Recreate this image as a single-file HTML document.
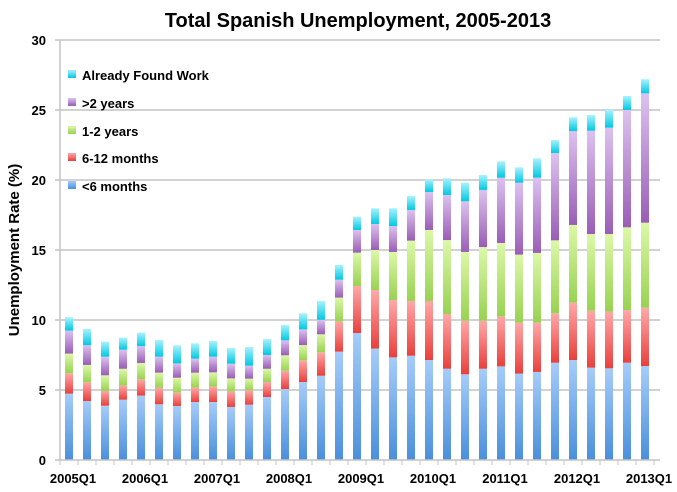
<!DOCTYPE html>
<html><head><meta charset="utf-8"><style>
body{margin:0;background:#fff;}
svg{display:block;font-family:"Liberation Sans",sans-serif;font-weight:bold;}
</style></head><body>
<svg id="c" width="677" height="492" xmlns="http://www.w3.org/2000/svg">
<defs>
<linearGradient id="g0" x1="0" y1="0" x2="0" y2="1"><stop offset="0" stop-color="#a6ccfa"/><stop offset="1" stop-color="#4a8fdb"/></linearGradient>
<linearGradient id="g1" x1="0" y1="0" x2="0" y2="1"><stop offset="0" stop-color="#ffa8a8"/><stop offset="1" stop-color="#e8403c"/></linearGradient>
<linearGradient id="g2" x1="0" y1="0" x2="0" y2="1"><stop offset="0" stop-color="#dcf8a8"/><stop offset="1" stop-color="#98d252"/></linearGradient>
<linearGradient id="g3" x1="0" y1="0" x2="0" y2="1"><stop offset="0" stop-color="#dcc2f0"/><stop offset="1" stop-color="#9a5db6"/></linearGradient>
<linearGradient id="g4" x1="0" y1="0" x2="0" y2="1"><stop offset="0" stop-color="#a8f2ff"/><stop offset="1" stop-color="#00c8e2"/></linearGradient>
</defs>
<text x="358" y="27" font-size="20" text-anchor="middle" fill="#000">Total Spanish Unemployment, 2005-2013</text>
<g id="grid" stroke="#c4c4c4" stroke-width="1.5"></g>
<g id="bars"></g>
<g id="ax"></g>
<text transform="translate(19,250) rotate(-90)" font-size="15" text-anchor="middle">Unemployment Rate (%)</text>
<g font-size="13">
<rect x="68" y="70" width="8" height="8" fill="url(#g4)"/><text x="82" y="80">Already Found Work</text>
<rect x="68" y="98" width="8" height="8" fill="url(#g3)"/><text x="82" y="108">&gt;2 years</text>
<rect x="68" y="126" width="8" height="8" fill="url(#g2)"/><text x="82" y="136">1-2 years</text>
<rect x="68" y="153" width="8" height="8" fill="url(#g1)"/><text x="82" y="163">6-12 months</text>
<rect x="68" y="181" width="8" height="8" fill="url(#g0)"/><text x="82" y="191">&lt;6 months</text>
</g>
</svg>
<script>
const d=[[4.74,6.19,7.6,9.24,10.2],[4.21,5.55,6.79,8.2,9.36],[3.88,4.93,6.05,7.38,8.45],[4.31,5.33,6.52,7.88,8.74],[4.6,5.76,6.93,8.14,9.1],[3.98,5.17,6.24,7.38,8.57],[3.86,4.81,5.88,6.9,8.19],[4.14,5.17,6.24,7.24,8.33],[4.14,5.24,6.26,7.38,8.5],[3.79,4.9,5.83,6.88,8.0],[3.95,4.98,5.81,6.74,8.07],[4.5,5.57,6.52,7.5,8.64],[5.07,6.38,7.48,8.55,9.64],[5.57,7.12,8.21,9.33,10.48],[6.02,7.69,8.98,10.02,11.36],[7.74,9.9,11.6,12.88,13.93],[9.07,12.43,14.81,16.43,17.38],[7.96,12.14,15.0,16.86,17.98],[7.33,11.43,14.86,16.71,17.98],[7.45,11.36,15.67,17.86,18.86],[7.14,11.36,16.43,19.14,20.05],[6.52,10.43,15.71,18.93,20.12],[6.12,9.95,14.86,18.48,19.81],[6.52,9.95,15.21,19.29,20.36],[6.69,10.26,15.5,20.17,21.33],[6.17,9.81,14.67,19.81,20.9],[6.29,9.81,14.79,20.17,21.55],[6.95,10.48,15.69,21.93,22.86],[7.14,11.24,16.79,23.5,24.48],[6.6,10.67,16.14,23.52,24.64],[6.55,10.6,16.14,23.74,25.02],[6.95,10.71,16.62,25.0,26.0],[6.71,10.88,16.95,26.19,27.2]];
const NS="http://www.w3.org/2000/svg";
function el(p,t,a,txt){const e=document.createElementNS(NS,t);for(const k in a)e.setAttribute(k,a[k]);if(txt!==undefined)e.textContent=txt;p.appendChild(e);return e;}
const Y=v=>460-v*14;
const grid=document.getElementById('grid'),bars=document.getElementById('bars'),ax=document.getElementById('ax');
for(let v=5;v<=30;v+=5)el(grid,'line',{x1:55,x2:660,y1:Y(v),y2:Y(v)});
for(let v=0;v<=30;v+=5)el(ax,'text',{x:46,y:Y(v)+5,'font-size':13,'text-anchor':'end'},String(v));
el(ax,'line',{x1:60,x2:60,y1:40,y2:460,stroke:'#c4c4c4','stroke-width':1.5});
el(ax,'line',{x1:55,x2:660,y1:460,y2:460,stroke:'#c4c4c4','stroke-width':1.5});
for(let i=0;i<=33;i++){const x=60+18*i;el(ax,'line',{x1:x,x2:x,y1:460,y2:465,stroke:'#c4c4c4','stroke-width':1});}
d.forEach((r,i)=>{const cx=69+18*i;let prev=0;r.forEach((v,j)=>{el(bars,'rect',{x:cx-4,y:Y(v),width:8,height:Y(prev)-Y(v),fill:'url(#g'+j+')'});prev=v;});});
const L=['2005Q1','2006Q1','2007Q1','2008Q1','2009Q1','2010Q1','2011Q1','2012Q1','2013Q1'];
L.forEach((t,k)=>el(ax,'text',{x:73+72*k,y:483,'font-size':13,'text-anchor':'middle'},t));
</script>
</body></html>
